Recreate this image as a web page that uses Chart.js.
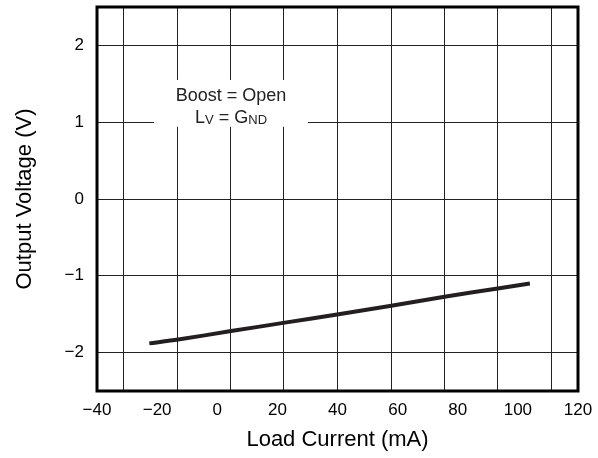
<!DOCTYPE html>
<html><head><meta charset="utf-8">
<script src="https://cdn.jsdelivr.net/npm/chart.js@4/dist/chart.umd.min.js"></script>
<style>html,body{margin:0;padding:0;background:#fff}#wrap{width:598px;height:458px}</style>
</head><body><div id="wrap"><canvas id="c" width="598" height="458"></canvas></div>
<script>
// Data
const loadCurrent = [-22.6, -13, 4.6, 22.5, 40.4, 57.9, 75.6, 93.3, 104];
const outputVoltage = [-1.88, -1.83, -1.72, -1.61, -1.50, -1.39, -1.273, -1.165, -1.10];
const xTicks = [-40, -20, 0, 20, 40, 60, 80, 100, 120];
const yTicks = [-2, -1, 0, 1, 2];
const xGridLines = [-31.1, -13.3, 4.4, 22.2, 40, 57.8, 75.6, 93.3, 111.1];

const FONT = '"Liberation Sans", Arial, Helvetica, sans-serif';
const fmt = v => (v < 0 ? '\u2212' + Math.abs(v) : String(v));

const frame = {
  id: 'frame',
  afterDraw(chart) {
    const {ctx, chartArea: a} = chart;
    ctx.save();
    ctx.strokeStyle = '#000';
    ctx.lineWidth = 3;
    ctx.strokeRect(a.left, a.top, a.right - a.left, a.bottom - a.top);
    ctx.restore();
  }
};

const note = {
  id: 'note',
  beforeDatasetsDraw(chart) {
    const {ctx, scales: {x, y}} = chart;
    const x0 = x.getPixelForValue(-21), x1 = x.getPixelForValue(30.2);
    const y0 = y.getPixelForValue(1.55), y1 = y.getPixelForValue(0.94);
    ctx.save();
    ctx.fillStyle = '#fff';
    ctx.fillRect(x0, y0, x1 - x0, y1 - y0);
    const cx = x.getPixelForValue(4.6);
    const big = 18, small = 13;
    ctx.fillStyle = '#222';
    ctx.textBaseline = 'alphabetic';
    ctx.textAlign = 'left';
    ctx.font = big + 'px ' + FONT;
    const t = 'Boost = Open';
    const w = ctx.measureText(t).width;
    ctx.fillText(t, cx - w / 2, y.getPixelForValue(1.357) + 6.5);
    const parts = [['L', big, 0], ['V', small, 1], [' = G', big, 0], ['ND', small, 1]];
    let total = 0;
    parts.forEach(p => { ctx.font = p[1] + 'px ' + FONT; total += ctx.measureText(p[0]).width; });
    let px = cx - total / 2;
    const by = y.getPixelForValue(1.074) + 6.5;
    parts.forEach(p => {
      ctx.font = p[1] + 'px ' + FONT;
      ctx.fillText(p[0], px, by + p[2]);
      px += ctx.measureText(p[0]).width;
    });
    ctx.restore();
  }
};

new Chart(document.getElementById('c'), {
  type: 'line',
  data: {
    datasets: [{
      data: loadCurrent.map((v, i) => ({x: v, y: outputVoltage[i]})),
      borderColor: '#231f20',
      borderWidth: 4,
      pointRadius: 0,
      tension: 0.3,
      fill: false
    }]
  },
  options: {
    responsive: false,
    animation: false,
    devicePixelRatio: 1,
    layout: {padding: {top: 7, right: 20, bottom: 0, left: 0}},
    plugins: {legend: {display: false}, tooltip: {enabled: false}},
    scales: {
      x: {
        type: 'linear', position: 'bottom', min: -40, max: 120,
        afterBuildTicks: s => { s.ticks = xTicks.map(v => ({value: v})); },
        afterFit: s => { s.height = 67; s.paddingLeft = 0; s.paddingRight = 0; },
        grid: {display: false},
        border: {display: false},
        ticks: {padding: 1, maxRotation: 0, autoSkip: false, color: '#000',
          font: {family: FONT, size: 17}, callback: v => fmt(v)},
        title: {display: true, text: 'Load Current (mA)', color: '#000',
          font: {family: FONT, size: 22}, padding: {top: 0, bottom: 5}}
      },
      xg: {
        type: 'linear', position: 'top', min: -40, max: 120,
        afterBuildTicks: s => { s.ticks = xGridLines.map(v => ({value: v})); },
        afterFit: s => { s.height = 0; s.paddingLeft = 0; s.paddingRight = 0; },
        grid: {color: '#222', lineWidth: 1, drawTicks: false},
        border: {display: false},
        ticks: {display: false}
      },
      y: {
        type: 'linear', min: -2.5, max: 2.5,
        afterBuildTicks: s => { s.ticks = yTicks.map(v => ({value: v})); },
        afterFit: s => { s.width = 97; s.paddingTop = 0; s.paddingBottom = 0; },
        grid: {color: '#222', lineWidth: 1, drawTicks: false},
        border: {display: false},
        ticks: {padding: 13, color: '#000', font: {family: FONT, size: 17}, callback: v => fmt(v)},
        title: {display: true, text: 'Output Voltage (V)', color: '#000',
          font: {family: FONT, size: 22}, padding: {top: 12, bottom: 0}}
      }
    }
  },
  plugins: [note, frame]
});
</script></body></html>
